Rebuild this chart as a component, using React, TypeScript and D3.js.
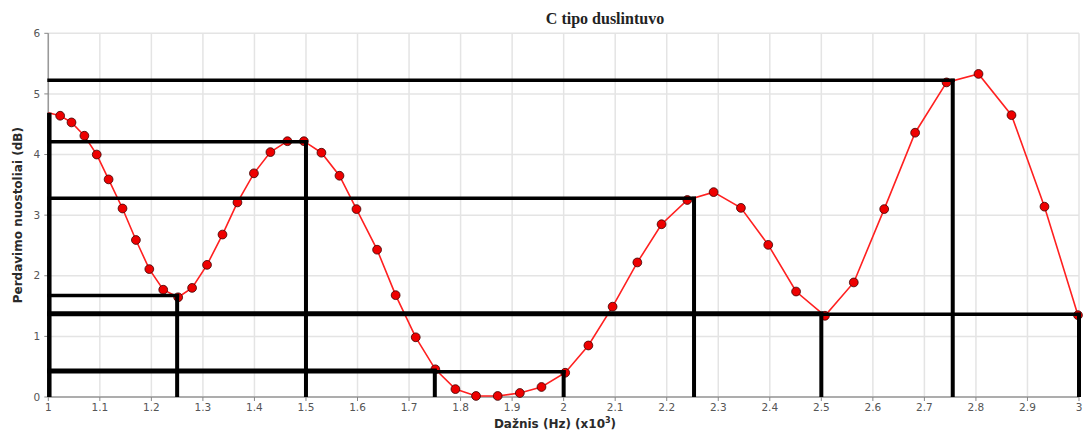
import React from "react";
import * as d3 from "d3";

const freq = [1.0, 1.023, 1.045, 1.07, 1.094, 1.117, 1.144, 1.17, 1.196, 1.223, 1.252, 1.279, 1.308, 1.338, 1.367, 1.399, 1.431, 1.464, 1.496, 1.53, 1.565, 1.598, 1.638, 1.674, 1.713, 1.751, 1.79, 1.83, 1.872, 1.915, 1.957, 2.003, 2.048, 2.095, 2.143, 2.19, 2.24, 2.291, 2.344, 2.397, 2.451, 2.507, 2.563, 2.622, 2.682, 2.743, 2.805, 2.869, 2.933, 2.998];
const loss = [4.69, 4.64, 4.53, 4.31, 4.0, 3.59, 3.11, 2.59, 2.11, 1.77, 1.645, 1.8, 2.18, 2.68, 3.21, 3.69, 4.04, 4.22, 4.22, 4.03, 3.65, 3.1, 2.43, 1.68, 0.985, 0.457, 0.13, 0.017, 0.017, 0.066, 0.165, 0.4, 0.85, 1.49, 2.22, 2.85, 3.25, 3.38, 3.12, 2.51, 1.74, 1.34, 1.89, 3.1, 4.36, 5.19, 5.33, 4.65, 3.14, 1.35];

// Black reference lines: level (dB) and frequency where it ends
const refLevels = [5.225, 4.21, 3.28, 1.676, 1.372, 1.365, 0.434, 0.417];
const refEnds = [2.755, 1.5, 2.253, 1.25, 2.5, 3.0, 1.75, 2.0];
const refWidths = [3.5, 3.5, 3.5, 3.5, 5, 3.5, 4.5, 3.5];

const xTicks = d3.range(10, 31).map((v) => v / 10);
const yTicks = [0, 1, 2, 3, 4, 5, 6];

const W = 1085;
const H = 433;
const left = 48.3;
const right = 1079;
const top = 33.3;
const bottom = 397;

export default function App() {
  const x = d3.scaleLinear().domain([1, 3]).range([left, right]);
  const y = d3.scaleLinear().domain([0, 6]).range([bottom, top]);
  const pts = freq.map((f, i) => [f, loss[i]] as [number, number]);
  const line = d3
    .line<[number, number]>()
    .x((d) => x(d[0]))
    .y((d) => y(d[1]));

  const fmt = (v: number) => (Number.isInteger(v) ? String(v) : v.toFixed(1));

  return (
    <svg
      width={W}
      height={H}
      style={{ position: "absolute", left: 0, top: 0, background: "#fff" }}
      fontFamily="'DejaVu Sans', 'Open Sans', sans-serif"
    >
      <rect x={0} y={0} width={W} height={H} fill="#fff" />
      {/* grid */}
      {xTicks.map((t) => (
        <line key={"gx" + t} x1={x(t)} x2={x(t)} y1={top} y2={bottom} stroke="#e4e4e4" strokeWidth={1.5} />
      ))}
      {yTicks.map((t) => (
        <line key={"gy" + t} x1={left} x2={right} y1={y(t)} y2={y(t)} stroke="#e4e4e4" strokeWidth={1.5} />
      ))}
      {/* axes */}
      <line x1={left} x2={left} y1={top} y2={bottom} stroke="#999" strokeWidth={1.5} />
      <line x1={left} x2={right} y1={bottom} y2={bottom} stroke="#999" strokeWidth={1.5} />
      {yTicks.map((t) => (
        <g key={"yt" + t}>
          <line x1={left - 4} x2={left} y1={y(t)} y2={y(t)} stroke="#888" strokeWidth={1} />
          <text x={left - 8} y={y(t)} dy="0.35em" textAnchor="end" fontSize={10.5} fill="#555">
            {fmt(t)}
          </text>
        </g>
      ))}
      {xTicks.map((t) => (
        <g key={"xt" + t}>
          <line x1={x(t)} x2={x(t)} y1={bottom} y2={bottom + 4} stroke="#888" strokeWidth={1} />
          <text x={x(t)} y={bottom + 14} textAnchor="middle" fontSize={10.5} fill="#555">
            {fmt(t)}
          </text>
        </g>
      ))}

      {/* data */}
      <path d={line(pts) || ""} fill="none" stroke="#ff2020" strokeWidth={1.6} />
      {pts.map((p, i) =>
        i === 0 ? null : (
          <circle key={"p" + i} cx={x(p[0])} cy={y(p[1])} r={4.4} fill="#ee0000" stroke="#3a0000" strokeWidth={0.8} />
        )
      )}

      {/* black reference lines */}
      {refLevels.map((lv, i) => (
        <g key={"r" + i}>
          <line x1={left - 1} x2={x(refEnds[i]) + 2} y1={y(lv)} y2={y(lv)} stroke="#000" strokeWidth={refWidths[i]} />
          <line x1={x(refEnds[i])} x2={x(refEnds[i])} y1={y(lv) - 1.5} y2={bottom} stroke="#000" strokeWidth={4} />
        </g>
      ))}
      <line x1={left + 1} x2={left + 1} y1={y(loss[0])} y2={bottom} stroke="#000" strokeWidth={4.5} />

      {/* title & labels */}
      <text
        x={605}
        y={24}
        textAnchor="middle"
        fontFamily="'Liberation Serif', 'DejaVu Serif', serif"
        fontWeight="bold"
        fontSize={16}
        fill="#222"
      >
        C tipo duslintuvo
      </text>
      <text x={555} y={428} textAnchor="middle" fontSize={12} fontWeight="bold" fill="#2a2a2a">
        Dažnis (Hz) (x10
        <tspan dy={-5} fontSize={8}>3</tspan>
        <tspan dy={5}>)</tspan>
      </text>
      <text
        transform={`translate(22,${(top + bottom) / 2}) rotate(-90)`}
        textAnchor="middle"
        fontSize={12}
        fontWeight="bold"
        fill="#2a2a2a"
      >
        Perdavimo nuostoliai (dB)
      </text>
    </svg>
  );
}
